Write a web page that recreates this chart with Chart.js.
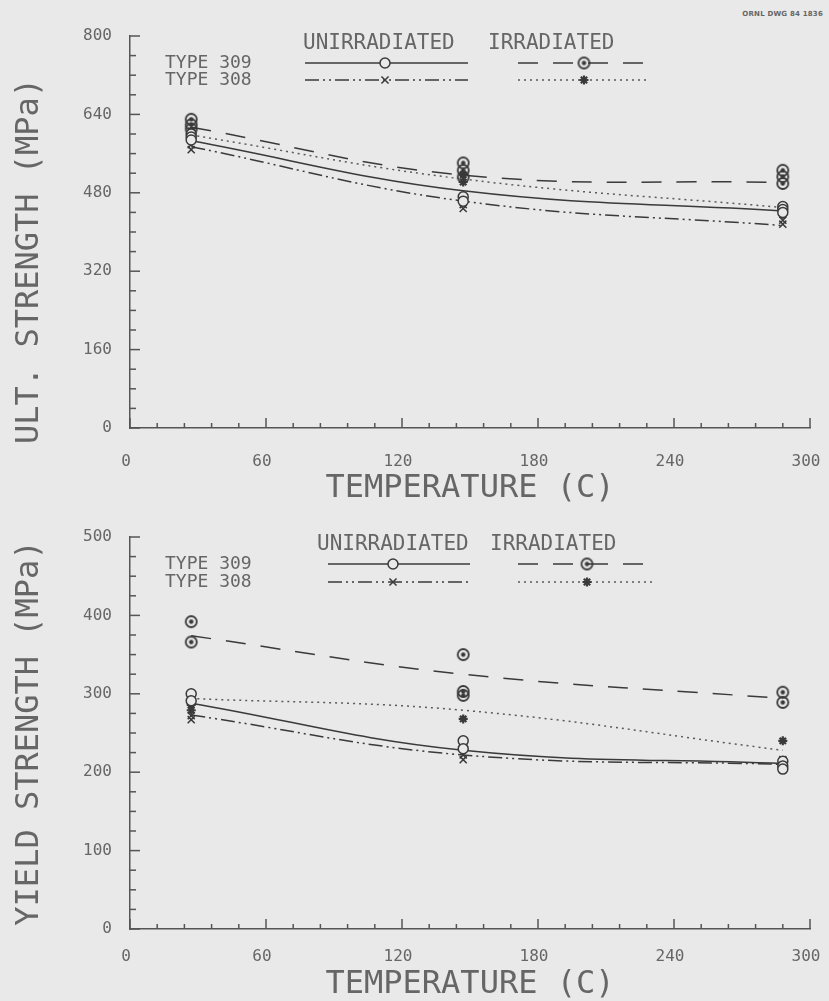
<!DOCTYPE html>
<html>
<head>
<meta charset="utf-8">
<script src="https://cdn.jsdelivr.net/npm/chart.js@4.4.1/dist/chart.umd.min.js"></script>
<style>
  html, body { margin: 0; padding: 0; background: #e9e9e9; }
  #wrap { position: relative; width: 829px; height: 1001px; }
  .box { position: absolute; left: 0; width: 829px; }
  #tag { position: absolute; right: 6px; top: 10px; font: bold 7px "DejaVu Sans"; color: #666; letter-spacing: 0.2px; }
</style>
</head>
<body>
<div id="wrap">
  <div id="tag">ORNL DWG 84 1836</div>
  <div class="box" style="top:0;height:505px"><canvas id="ult" width="829" height="505"></canvas></div>
  <div class="box" style="top:505px;height:496px"><canvas id="yield" width="829" height="496"></canvas></div>
</div>
<script>
// test temperatures (C) for the fitted curves
const fitTemps = [27, 147, 288];

// ---- ultimate strength (MPa) ----
const ultUnirr309T = [27, 27, 27, 147, 147, 288, 288, 288];
const ultUnirr309 = [600, 594, 588, 472, 463, 452, 446, 440];
const ultUnirr308T = [27, 27, 147, 147, 288, 288];
const ultUnirr308 = [578, 568, 456, 448, 424, 416];
const ultIrr309T = [27, 27, 27, 147, 147, 147, 288, 288, 288];
const ultIrr309 = [630, 619, 610, 541, 526, 512, 526, 513, 499];
const ultIrr308T = [27, 27, 147, 147, 288];
const ultIrr308 = [606, 592, 502, 517, 436];
const ultFitUnirr309 = [586, 484, 443];
const ultFitUnirr308 = [574, 463, 413];
const ultFitIrr309 = [614, 516, 501];
const ultFitIrr308 = [598, 508, 450];

// ---- yield strength (MPa) ----
const ysUnirr309T = [27, 27, 147, 147, 288, 288, 288];
const ysUnirr309 = [300, 291, 240, 230, 214, 208, 204];
const ysUnirr308T = [27, 27, 147, 147, 288, 288];
const ysUnirr308 = [272, 267, 222, 216, 216, 210];
const ysIrr309T = [27, 27, 147, 147, 147, 288, 288];
const ysIrr309 = [392, 366, 350, 303, 298, 302, 289];
const ysIrr308T = [27, 27, 147, 288];
const ysIrr308 = [286, 279, 268, 240];
const ysFitUnirr309 = [288, 228, 211];
const ysFitUnirr308 = [273, 222, 210];
const ysFitIrr309 = [374, 325, 294];
const ysFitIrr308 = [294, 279, 228];

const tempTicks = [0, 60, 120, 180, 240, 300];
const ultTicks = [0, 160, 320, 480, 640, 800];
const yieldTicks = [0, 100, 200, 300, 400, 500];

const ink = '#3a3a3a';
const textColor = '#666';
const paper = '#e9e9e9';
const mono = '"DejaVu Sans Mono", "Liberation Mono", monospace';

function circleDot() {
  const c = document.createElement('canvas');
  c.width = 15; c.height = 15;
  const g = c.getContext('2d');
  g.strokeStyle = ink; g.lineWidth = 1.8;
  g.beginPath(); g.arc(7.5, 7.5, 5.5, 0, Math.PI * 2); g.stroke();
  g.fillStyle = ink;
  g.beginPath(); g.arc(7.5, 7.5, 2.2, 0, Math.PI * 2); g.fill();
  return c;
}
const dotMarker = circleDot();

const pts = (xs, ys) => xs.map((x, i) => ({x: x, y: ys[i]}));

function pointSet(xs, ys, style) {
  return Object.assign({
    data: pts(xs, ys), showLine: false, borderColor: ink,
    backgroundColor: paper, pointRadius: 5, borderWidth: 1.5
  }, style);
}
function fitSet(ys, dash, color) {
  return {
    data: pts(fitTemps, ys), showLine: true, pointRadius: 0, tension: 0.4,
    borderColor: color || ink, borderWidth: 1.5, borderDash: dash, fill: false
  };
}

const innerTicks = {
  id: 'innerTicks',
  afterDatasetsDraw(chart, args, o) {
    const {ctx, chartArea, scales: {x, y}} = chart;
    ctx.save();
    ctx.strokeStyle = '#555'; ctx.lineWidth = 1.5;
    for (let v = x.min; v <= x.max + 1e-6; v += o.xMinor) {
      const px = x.getPixelForValue(v);
      const len = Math.abs(v % o.xMajor) < 1e-6 ? 10 : 5;
      ctx.beginPath(); ctx.moveTo(px, chartArea.bottom); ctx.lineTo(px, chartArea.bottom - len); ctx.stroke();
    }
    for (let v = y.min; v <= y.max + 1e-6; v += o.yMinor) {
      const py = y.getPixelForValue(v);
      const len = Math.abs(v % o.yMajor) < 1e-6 ? 10 : 6;
      ctx.beginPath(); ctx.moveTo(chartArea.left, py); ctx.lineTo(chartArea.left + len, py); ctx.stroke();
    }
    ctx.restore();
  }
};

const typeKey = {
  id: 'typeKey',
  afterDraw(chart, args, o) {
    const ctx = chart.ctx;
    const ds = chart.data.datasets;
    ctx.save();
    ctx.textBaseline = 'middle';
    ctx.fillStyle = textColor;
    ctx.font = '21px ' + mono;
    ctx.fillText('UNIRRADIATED', o.headX[0], o.headY);
    ctx.fillText('IRRADIATED', o.headX[1], o.headY);
    const rows = [['TYPE 309', [0, 2], [4, 6]], ['TYPE 308', [1, 3], [5, 7]]];
    rows.forEach((row, r) => {
      const y = o.rowY[r];
      ctx.fillStyle = textColor;
      ctx.font = '18px ' + mono;
      ctx.fillText(row[0], o.labelX, y);
      [0, 1].forEach(c => {
        const line = ds[row[2][c]], pt = ds[row[1][c]];
        const x1 = o.sampleX[c][0], x2 = o.sampleX[c][1];
        ctx.strokeStyle = line.borderColor; ctx.lineWidth = line.borderWidth;
        ctx.setLineDash(line.borderDash);
        ctx.beginPath(); ctx.moveTo(x1, y); ctx.lineTo(x2, y); ctx.stroke();
        ctx.setLineDash([]);
        ctx.strokeStyle = pt.borderColor; ctx.fillStyle = pt.backgroundColor; ctx.lineWidth = pt.borderWidth;
        Chart.helpers.drawPoint(ctx, {pointStyle: pt.pointStyle, radius: pt.pointRadius, borderWidth: pt.borderWidth, rotation: 0}, o.markX[c], y);
      });
    });
    ctx.restore();
  }
};

function build(id, s) {
  const datasets = [
    pointSet(s.unirr309T, s.unirr309, {pointStyle: 'circle'}),
    pointSet(s.unirr308T, s.unirr308, {pointStyle: 'crossRot', pointRadius: 5}),
    pointSet(s.irr309T, s.irr309, {pointStyle: dotMarker}),
    pointSet(s.irr308T, s.irr308, {pointStyle: 'star', pointRadius: 4.5, borderWidth: 2.2}),
    fitSet(s.fitUnirr309, []),
    fitSet(s.fitUnirr308, [14, 4, 2, 4, 2, 4]),
    fitSet(s.fitIrr309, [20, 15]),
    fitSet(s.fitIrr308, [2, 4], '#5a5a5a')
  ];
  return new Chart(document.getElementById(id), {
    type: 'scatter',
    data: {datasets: datasets},
    plugins: [innerTicks, typeKey],
    options: {
      responsive: false,
      animation: false,
      layout: {padding: {left: 0, top: s.top, right: 19, bottom: 0}},
      plugins: {
        legend: {display: false},
        tooltip: {enabled: false},
        innerTicks: {xMinor: 12, xMajor: 60, yMinor: s.yMinor, yMajor: s.yTicks[1]},
        typeKey: s.key
      },
      scales: {
        x: {
          type: 'linear', min: 0, max: 300,
          afterFit: sc => { sc.height = s.xHeight; sc.paddingLeft = 0; sc.paddingRight = 0; },
          afterBuildTicks: sc => { sc.ticks = tempTicks.map(v => ({value: v})); },
          grid: {drawOnChartArea: false, drawTicks: false},
          border: {color: '#555', width: 1.5},
          ticks: {color: textColor, font: {family: mono, size: 16}, padding: s.xTickPad, maxRotation: 0, labelOffset: -4},
          title: {display: true, text: 'TEMPERATURE (C)', color: textColor,
                  font: {family: mono, size: 32, lineHeight: 1}, padding: {top: 0, bottom: 0}}
        },
        y: {
          type: 'linear', min: 0, max: s.yTicks[s.yTicks.length - 1],
          afterFit: sc => { sc.width = 130; sc.paddingTop = 0; sc.paddingBottom = 0; },
          afterBuildTicks: sc => { sc.ticks = s.yTicks.map(v => ({value: v})); },
          grid: {drawOnChartArea: false, drawTicks: false},
          border: {color: '#555', width: 1.5},
          ticks: {color: textColor, font: {family: mono, size: 16}, padding: 18},
          title: {display: true, text: s.yTitle, color: textColor,
                  font: {family: mono, size: 32, lineHeight: 1}, padding: {top: 14, bottom: 0}}
        }
      }
    }
  });
}

build('ult', {
  unirr309T: ultUnirr309T, unirr309: ultUnirr309,
  unirr308T: ultUnirr308T, unirr308: ultUnirr308,
  irr309T: ultIrr309T, irr309: ultIrr309,
  irr308T: ultIrr308T, irr308: ultIrr308,
  fitUnirr309: ultFitUnirr309, fitUnirr308: ultFitUnirr308,
  fitIrr309: ultFitIrr309, fitIrr308: ultFitIrr308,
  yTicks: ultTicks, yMinor: 40, yTitle: 'ULT. STRENGTH (MPa)   ',
  top: 36, xHeight: 77, xTickPad: 24,
  key: {headX: [303, 488], headY: 44, labelX: 165, rowY: [63, 80],
        sampleX: [[305, 468], [518, 650]], markX: [385, 584]}
});

build('yield', {
  unirr309T: ysUnirr309T, unirr309: ysUnirr309,
  unirr308T: ysUnirr308T, unirr308: ysUnirr308,
  irr309T: ysIrr309T, irr309: ysIrr309,
  irr308T: ysIrr308T, irr308: ysIrr308,
  fitUnirr309: ysFitUnirr309, fitUnirr308: ysFitUnirr308,
  fitIrr309: ysFitIrr309, fitIrr308: ysFitIrr308,
  yTicks: yieldTicks, yMinor: 25, yTitle: 'YIELD STRENGTH (MPa)',
  top: 32, xHeight: 72, xTickPad: 18,
  key: {headX: [317, 490], headY: 40, labelX: 165, rowY: [59, 77],
        sampleX: [[328, 470], [518, 655]], markX: [393, 587]}
});
</script>
</body>
</html>
